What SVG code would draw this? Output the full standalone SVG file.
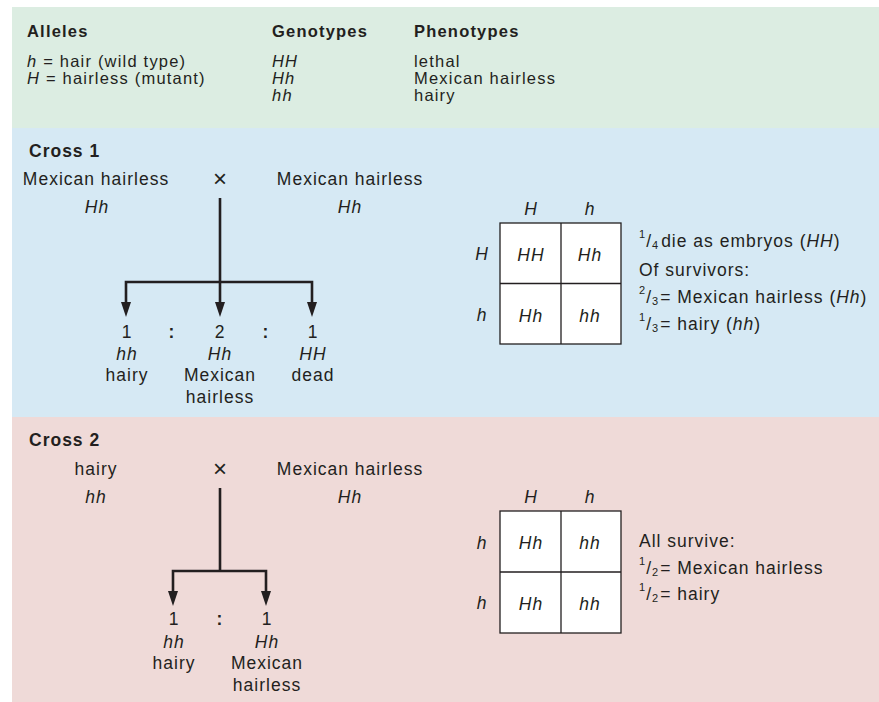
<svg xmlns="http://www.w3.org/2000/svg" width="879" height="702" viewBox="0 0 879 702">
  <style>
    text { font-family: "Liberation Sans", Arial, Helvetica, sans-serif; font-size: 17.5px; letter-spacing: 1px; fill: #231f20; }
    .hd { font-size: 16.5px; letter-spacing: 1.2px; }
    .b { font-weight: bold; }
    .i { font-style: italic; }
    .m { text-anchor: middle; }
    .x { font-size: 24px; letter-spacing: 0; }
    .fr { font-size: 11px; }
    .box { fill: #ffffff; stroke: #231f20; stroke-width: 1.3; }
    .grid { fill: none; stroke: #231f20; stroke-width: 1.3; }
    .wire { fill: none; stroke: #231f20; stroke-width: 2.6; stroke-linejoin: miter; }
  </style>
  <defs>
    <marker id="head" viewBox="0 0 15 10" refX="8" refY="5" markerWidth="15" markerHeight="10" markerUnits="userSpaceOnUse" orient="auto">
      <path d="M0,0 L15,5 L0,10 Z" fill="#231f20"/>
    </marker>
  </defs>

  <!-- background bands -->
  <rect x="12" y="7" width="867" height="121" fill="#dcede2"/>
  <rect x="12" y="128" width="867" height="289" fill="#d6e9f4"/>
  <rect x="12" y="417" width="867" height="285" fill="#efdad8"/>

  <!-- key: alleles, genotypes, phenotypes -->
  <g id="key">
    <text class="hd b" x="27" y="37">Alleles</text>
    <text class="hd b" x="272" y="37">Genotypes</text>
    <text class="hd b" x="414" y="37">Phenotypes</text>
    <text class="hd" x="27" y="67"><tspan class="i">h</tspan> = hair (wild type)</text>
    <text class="hd" x="27" y="84"><tspan class="i">H</tspan> = hairless (mutant)</text>
    <text class="hd i" x="272" y="67">HH</text>
    <text class="hd i" x="272" y="84">Hh</text>
    <text class="hd i" x="272" y="101">hh</text>
    <text class="hd" x="414" y="67">lethal</text>
    <text class="hd" x="414" y="84">Mexican hairless</text>
    <text class="hd" x="414" y="101">hairy</text>
  </g>

  <!-- cross 1 -->
  <g id="cross1-title"><text class="b" x="29" y="157">Cross 1</text></g>
  <g id="cross1-parent-a">
    <text class="m" x="96" y="185">Mexican hairless</text>
    <text class="m i" x="97" y="213">Hh</text>
  </g>
  <g id="cross1-sign"><text class="m x" x="220" y="187">×</text></g>
  <g id="cross1-parent-b">
    <text class="m" x="350" y="185">Mexican hairless</text>
    <text class="m i" x="350" y="213">Hh</text>
  </g>
  <g id="cross1-hh">
    <text class="m" x="127" y="338">1</text>
    <text class="m i" x="127" y="360">hh</text>
    <text class="m" x="127" y="381">hairy</text>
  </g>
  <g id="cross1-Hh">
    <text class="m" x="220" y="338">2</text>
    <text class="m i" x="220" y="360">Hh</text>
    <text class="m" x="220" y="381">Mexican</text>
    <text class="m" x="220" y="403">hairless</text>
  </g>
  <g id="cross1-HH">
    <text class="m" x="313" y="338">1</text>
    <text class="m i" x="313" y="360">HH</text>
    <text class="m" x="313" y="381">dead</text>
  </g>
  <g id="cross1-ratio">
    <text class="m b" x="172" y="338">:</text>
    <text class="m b" x="266" y="338">:</text>
  </g>
  <g id="cross1-punnett">
    <rect class="box" x="500" y="223" width="121" height="121"/>
    <path class="grid" d="M561,223 V344 M500,283.5 H621"/>
    <text class="m i" x="531" y="215">H</text>
    <text class="m i" x="590" y="215">h</text>
    <text class="m i" x="482" y="260">H</text>
    <text class="m i" x="482" y="321">h</text>
    <text class="m i" x="531" y="261">HH</text>
    <text class="m i" x="590" y="261">Hh</text>
    <text class="m i" x="531" y="322">Hh</text>
    <text class="m i" x="590" y="322">hh</text>
  </g>
  <g id="cross1-summary">
    <text x="639" y="247"><tspan class="fr" dy="-9">1</tspan><tspan dy="9">/</tspan><tspan class="fr" dy="2">4</tspan><tspan dx="2" dy="-2">die as embryos (</tspan><tspan class="i">HH</tspan>)</text>
    <text x="639" y="276">Of survivors:</text>
    <text x="639" y="303"><tspan class="fr" dy="-9">2</tspan><tspan dy="9">/</tspan><tspan class="fr" dy="2">3</tspan><tspan dx="1" dy="-2">= Mexican hairless (</tspan><tspan class="i">Hh</tspan>)</text>
    <text x="639" y="330"><tspan class="fr" dy="-9">1</tspan><tspan dy="9">/</tspan><tspan class="fr" dy="2">3</tspan><tspan dx="1" dy="-2">= hairy (</tspan><tspan class="i">hh</tspan>)</text>
  </g>

  <!-- cross 2 -->
  <g id="cross2-title"><text class="b" x="29" y="446">Cross 2</text></g>
  <g id="cross2-parent-a">
    <text class="m" x="96" y="475">hairy</text>
    <text class="m i" x="96" y="503">hh</text>
  </g>
  <g id="cross2-sign"><text class="m x" x="220" y="477">×</text></g>
  <g id="cross2-parent-b">
    <text class="m" x="350" y="475">Mexican hairless</text>
    <text class="m i" x="350" y="503">Hh</text>
  </g>
  <g id="cross2-hh">
    <text class="m" x="174" y="625">1</text>
    <text class="m i" x="174" y="648">hh</text>
    <text class="m" x="174" y="669">hairy</text>
  </g>
  <g id="cross2-Hh">
    <text class="m" x="267" y="625">1</text>
    <text class="m i" x="267" y="648">Hh</text>
    <text class="m" x="267" y="669">Mexican</text>
    <text class="m" x="267" y="691">hairless</text>
  </g>
  <g id="cross2-ratio">
    <text class="m b" x="220" y="625">:</text>
  </g>
  <g id="cross2-punnett">
    <rect class="box" x="500" y="511" width="121" height="122"/>
    <path class="grid" d="M561,511 V633 M500,572 H621"/>
    <text class="m i" x="531" y="503">H</text>
    <text class="m i" x="590" y="503">h</text>
    <text class="m i" x="482" y="549">h</text>
    <text class="m i" x="482" y="609">h</text>
    <text class="m i" x="531" y="549">Hh</text>
    <text class="m i" x="590" y="549">hh</text>
    <text class="m i" x="531" y="610">Hh</text>
    <text class="m i" x="590" y="610">hh</text>
  </g>
  <g id="cross2-summary">
    <text x="639" y="547">All survive:</text>
    <text x="639" y="574"><tspan class="fr" dy="-9">1</tspan><tspan dy="9">/</tspan><tspan class="fr" dy="2">2</tspan><tspan dx="1" dy="-2">= Mexican hairless</tspan></text>
    <text x="639" y="600"><tspan class="fr" dy="-9">1</tspan><tspan dy="9">/</tspan><tspan class="fr" dy="2">2</tspan><tspan dx="1" dy="-2">= hairy</tspan></text>
  </g>

  <!-- connectors: cross lines splitting into offspring arrows -->
  <g id="connectors">
    <path class="wire" d="M220,198 V310" marker-end="url(#head)"/>
    <path class="wire" d="M220,282 H126 V310" marker-end="url(#head)"/>
    <path class="wire" d="M220,282 H312 V310" marker-end="url(#head)"/>
    <path class="wire" d="M220,488 V572"/>
    <path class="wire" d="M220,571 H173 V599" marker-end="url(#head)"/>
    <path class="wire" d="M220,571 H266 V599" marker-end="url(#head)"/>
  </g>
</svg>
